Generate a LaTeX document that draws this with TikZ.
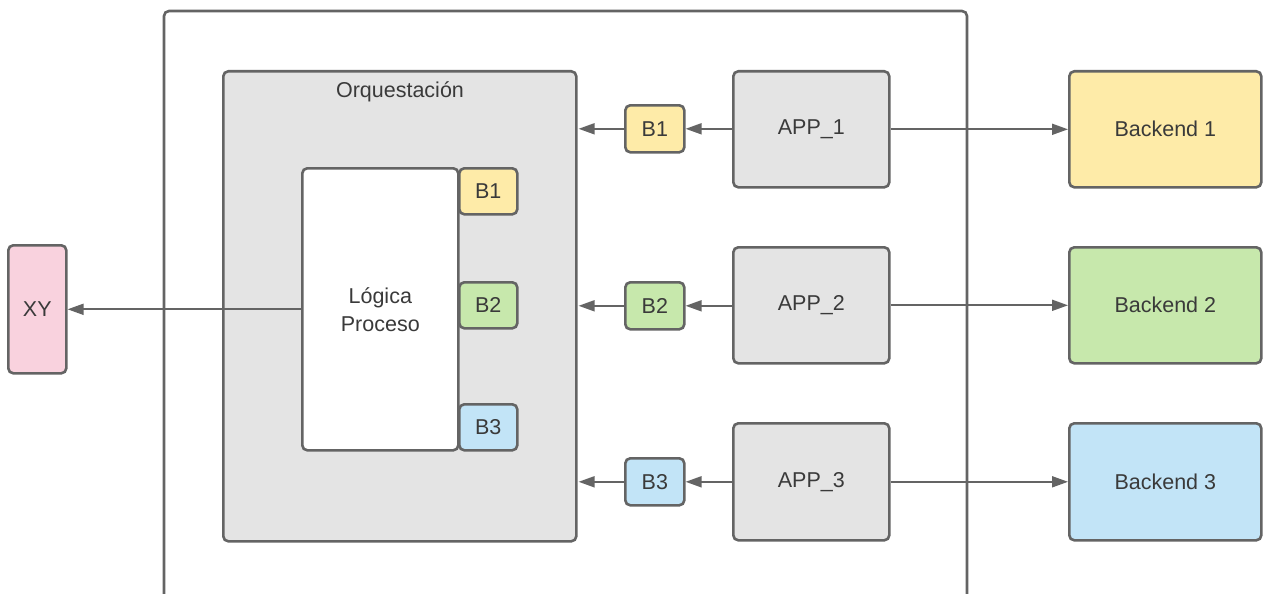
\documentclass[tikz,border=0pt]{standalone}
\usepackage{fontspec}
\setmainfont{Liberation Sans}
\usetikzlibrary{arrows.meta}
\definecolor{edge}{HTML}{646464}
\definecolor{txt}{HTML}{3A3A3A}
\definecolor{grayfill}{HTML}{E4E4E4}
\definecolor{yel}{HTML}{FEEBA8}
\definecolor{grn}{HTML}{C7E8AC}
\definecolor{blu}{HTML}{C2E4F7}
\definecolor{pnk}{HTML}{F9D2DE}
\tikzset{
  box/.style={draw=edge, line width=2.6pt, rounded corners=5pt, anchor=north west,
    inner sep=0pt, text=txt, align=center, font=\fontsize{21.5}{28}\selectfont},
  frame/.style={draw=edge, line width=2.6pt, rounded corners=5pt},
  conn/.style={draw=edge, line width=1.8pt, -{Triangle[length=16pt,width=11pt]}},
  lbl/.style={text=txt, font=\fontsize{21.5}{28}\selectfont}
}
\begin{document}
\begin{tikzpicture}[x=1pt,y=-1pt]
\useasboundingbox[fill=white] (0,0) rectangle (1263,594);
% outer frame (open at the bottom)
\draw[frame] (164,600) -- (164,11) -- (967,11) -- (967,600);
% Orquestación
\node[box, fill=grayfill, minimum width=353pt, minimum height=470pt] (orq) at (222,70) {};
\node[lbl] (orqlbl) at (400,92) {Orquestación};
\node[box, fill=white, minimum width=156pt, minimum height=282pt] (log) at (301,167) {Lógica\\Proceso};
\node[box, fill=yel, minimum width=58pt, minimum height=46pt] (ib1) at (458,167) {B1};
\node[box, fill=grn, minimum width=58pt, minimum height=46pt] (ib2) at (458,281) {B2};
\node[box, fill=blu, minimum width=58pt, minimum height=46pt] (ib3) at (458,403) {B3};
% XY
\node[box, fill=pnk, minimum width=58pt, minimum height=128pt] (xy) at (7,244) {XY};
% outer B boxes
\node[box, fill=yel, minimum width=59pt, minimum height=47pt] (b1) at (624,104) {B1};
\node[box, fill=grn, minimum width=59pt, minimum height=47pt] (b2) at (624,281) {B2};
\node[box, fill=blu, minimum width=59pt, minimum height=47pt] (b3) at (624,457) {B3};
% APPs
\node[box, fill=grayfill, minimum width=156pt, minimum height=116pt] (app1) at (732,70) {APP\_1};
\node[box, fill=grayfill, minimum width=156pt, minimum height=116pt] (app2) at (732,246) {APP\_2};
\node[box, fill=grayfill, minimum width=156pt, minimum height=117pt] (app3) at (732,422) {APP\_3};
% Backends
\node[box, fill=yel, minimum width=192pt, minimum height=116pt] (be1) at (1068,70) {Backend 1};
\node[box, fill=grn, minimum width=192pt, minimum height=116pt] (be2) at (1068,246) {Backend 2};
\node[box, fill=blu, minimum width=192pt, minimum height=117pt] (be3) at (1068,422) {Backend 3};
% connectors
\draw[conn] (app1.west |- b1.east) -- (b1.east);
\draw[conn] (app2.west |- b2.east) -- (b2.east);
\draw[conn] (app3.west |- b3.east) -- (b3.east);
\draw[conn, shorten >=1pt] (b1.west) -- (b1.west -| orq.east);
\draw[conn, shorten >=1pt] (b2.west) -- (b2.west -| orq.east);
\draw[conn, shorten >=1pt] (b3.west) -- (b3.west -| orq.east);
\draw[conn] (app1.east) -- (be1.west);
\draw[conn] (app2.east) -- (be2.west);
\draw[conn] (app3.east) -- (be3.west);
\draw[conn] (log.west |- xy.east) -- (xy.east);
\end{tikzpicture}
\end{document}
